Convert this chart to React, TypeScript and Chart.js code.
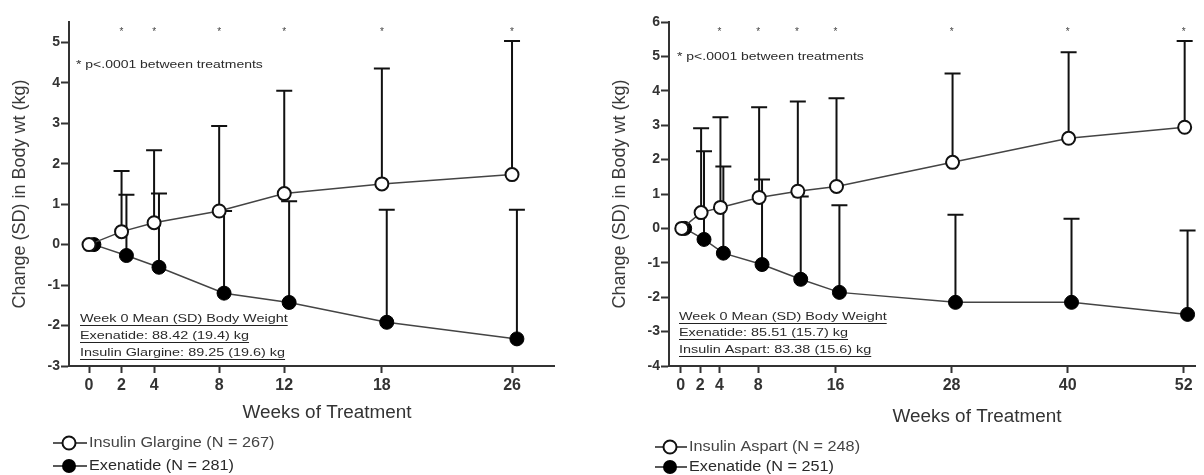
import React, { useEffect, useRef } from "react";
import { Chart, registerables } from "chart.js";
Chart.register(...registerables);

// ---------- Data ----------
// Left panel: Exenatide vs Insulin Glargine
const glargineWeeks = [0, 2, 4, 8, 12, 18, 26];
const glargineMean = [0, 0.32, 0.54, 0.83, 1.26, 1.5, 1.73];
const glargineSD = [0, 1.5, 1.79, 2.1, 2.54, 2.85, 3.3];
const exenatideGWeeks = [0, 2, 4, 8, 12, 18, 26];
const exenatideGMean = [0, -0.27, -0.56, -1.2, -1.43, -1.92, -2.33];
const exenatideGSD = [0, 1.5, 1.82, 2.03, 2.5, 2.78, 3.19];
const leftXTicks = [0, 2, 4, 8, 12, 18, 26];
const leftYTicks = [-3, -2, -1, 0, 1, 2, 3, 4, 5];
const leftSigWeeks = [2, 4, 8, 12, 18, 26];
const leftBoxLines = [
  "Week 0 Mean (SD) Body Weight",
  "Exenatide: 88.42 (19.4) kg",
  "Insulin Glargine: 89.25 (19.6) kg",
];
const leftLegend = ["Insulin Glargine (N = 267)", "Exenatide (N = 281)"];

// Right panel: Exenatide vs Insulin Aspart
const aspartWeeks = [0, 2, 4, 8, 12, 16, 28, 40, 52];
const aspartMean = [0, 0.46, 0.61, 0.9, 1.08, 1.22, 1.92, 2.62, 2.94];
const aspartSD = [0, 2.45, 2.62, 2.62, 2.61, 2.56, 2.58, 2.5, 2.51];
const exenatideAWeeks = [0, 2, 4, 8, 12, 16, 28, 40, 52];
const exenatideAMean = [0, -0.32, -0.72, -1.05, -1.48, -1.86, -2.15, -2.15, -2.5];
const exenatideASD = [0, 2.56, 2.52, 2.47, 2.41, 2.53, 2.55, 2.43, 2.44];
const rightXTicks = [0, 2, 4, 8, 16, 28, 40, 52];
const rightYTicks = [-4, -3, -2, -1, 0, 1, 2, 3, 4, 5, 6];
const rightSigWeeks = [4, 8, 12, 16, 28, 40, 52];
const rightBoxLines = [
  "Week 0 Mean (SD) Body Weight",
  "Exenatide: 85.51 (15.7) kg",
  "Insulin Aspart: 83.38 (15.6) kg",
];
const rightLegend = ["Insulin Aspart (N = 248)", "Exenatide (N = 251)"];

const noteText = "* p<.0001 between treatments";
const yTitle = "Change (SD) in Body wt (kg)";
const xTitle = "Weeks of Treatment";

// ---------- Styling ----------
const FONT = "Arial, 'Liberation Sans', Helvetica, sans-serif";
const AXIS = "#333";
const TEXT = "#2a2a2a";

function sText(ctx: any, text: string, x: number, y: number, size: number, sx: number, color: string, weight = "normal", align = "left") {
  ctx.save();
  ctx.font = `${weight} ${size}px ${FONT}`;
  ctx.fillStyle = color;
  ctx.textBaseline = "middle";
  ctx.textAlign = align;
  ctx.translate(x, y);
  ctx.scale(sx, 1);
  ctx.fillText(text, 0, 0);
  const w = ctx.measureText(text).width * sx;
  ctx.restore();
  return w;
}

type Panel = {
  left: number;
  width: number;
  xMin: number;
  xMax: number;
  yMin: number;
  yMax: number;
  padRight: number;
  xTicks: number[];
  yTicks: number[];
  insWeeks: number[];
  insMean: number[];
  insSD: number[];
  exWeeks: number[];
  exMean: number[];
  exSD: number[];
  insShift: number;
  exShift: number;
  sigWeeks: number[];
  note: [number, number];
  box: { x: number; ys: number[]; lines: string[] };
  legend: { x0: number; x1: number; mx: number; tx: number; ys: number[]; labels: string[] };
  xTitlePos: [number, number];
};

const panels: Panel[] = [
  {
    left: 0,
    width: 600,
    xMin: -1.23,
    xMax: 28.58,
    yMin: -3,
    yMax: 5.5,
    padRight: 46,
    xTicks: leftXTicks,
    yTicks: leftYTicks,
    insWeeks: glargineWeeks,
    insMean: glargineMean,
    insSD: glargineSD,
    exWeeks: exenatideGWeeks,
    exMean: exenatideGMean,
    exSD: exenatideGSD,
    insShift: 0,
    exShift: 0.3,
    sigWeeks: leftSigWeeks,
    note: [76, 65],
    box: { x: 80, ys: [319, 336, 353], lines: leftBoxLines },
    legend: { x0: 53, x1: 87, mx: 69, tx: 89, ys: [443, 466], labels: leftLegend },
    xTitlePos: [327, 413],
  },
  {
    left: 600,
    width: 604,
    xMin: -1.22,
    xMax: 53.22,
    yMin: -4,
    yMax: 6,
    padRight: 0,
    xTicks: rightXTicks,
    yTicks: rightYTicks,
    insWeeks: aspartWeeks,
    insMean: aspartMean,
    insSD: aspartSD,
    exWeeks: exenatideAWeeks,
    exMean: exenatideAMean,
    exSD: exenatideASD,
    insShift: 0.1,
    exShift: 0.4,
    sigWeeks: rightSigWeeks,
    note: [77, 57],
    box: { x: 79, ys: [317, 333, 350], lines: rightBoxLines },
    legend: { x0: 55, x1: 87, mx: 70, tx: 89, ys: [447, 467], labels: rightLegend },
    xTitlePos: [377, 417],
  },
];

function drawMarker(ctx: any, x: number, y: number, filled: boolean) {
  ctx.save();
  ctx.beginPath();
  ctx.arc(x, y, filled ? 7 : 6.5, 0, Math.PI * 2);
  if (filled) {
    ctx.fillStyle = "#000";
    ctx.fill();
  } else {
    ctx.fillStyle = "#fff";
    ctx.fill();
    ctx.lineWidth = 2;
    ctx.strokeStyle = "#111";
    ctx.stroke();
  }
  ctx.restore();
}

function makeChart(canvas: HTMLCanvasElement, p: Panel) {
  const sdByDataset = [p.insSD, p.exSD];
  const meanByDataset = [p.insMean, p.exMean];

  const errorBars = {
    id: "errorBars",
    beforeDatasetsDraw(chart: any) {
      const ctx = chart.ctx;
      const ys = chart.scales.y;
      ctx.save();
      ctx.strokeStyle = "#111";
      ctx.lineWidth = 2;
      for (let d = 1; d >= 0; d--) {
        const meta = chart.getDatasetMeta(d);
        meta.data.forEach((pt: any, i: number) => {
          const sd = sdByDataset[d][i];
          if (!sd) return;
          const top = ys.getPixelForValue(meanByDataset[d][i] + sd);
          ctx.beginPath();
          ctx.moveTo(pt.x, pt.y);
          ctx.lineTo(pt.x, top);
          ctx.moveTo(pt.x - 8, top);
          ctx.lineTo(pt.x + 8, top);
          ctx.stroke();
        });
      }
      ctx.restore();
    },
  };

  const annotations = {
    id: "annotations",
    afterDraw(chart: any) {
      const ctx = chart.ctx;
      const xs = chart.scales.x;
      // significance asterisks
      p.sigWeeks.forEach((w) => {
        sText(ctx, "*", xs.getPixelForValue(w), 32, 10, 1, "#444", "normal", "center");
      });
      // note
      sText(ctx, noteText, p.note[0], p.note[1], 11, 1.27, TEXT);
      // baseline weight box (underlined lines)
      p.box.lines.forEach((line, i) => {
        const y = p.box.ys[i];
        const w = sText(ctx, line, p.box.x, y, 11, 1.31, TEXT);
        ctx.save();
        ctx.strokeStyle = "#222";
        ctx.lineWidth = 1.2;
        ctx.beginPath();
        ctx.moveTo(p.box.x, y + 6.5);
        ctx.lineTo(p.box.x + w, y + 6.5);
        ctx.stroke();
        ctx.restore();
      });
      // x-axis title
      sText(ctx, xTitle, p.xTitlePos[0], p.xTitlePos[1], 18, 1.05, AXIS, "normal", "center");
      // legend
      p.legend.labels.forEach((lab, i) => {
        const y = p.legend.ys[i];
        ctx.save();
        ctx.strokeStyle = "#222";
        ctx.lineWidth = 1.5;
        ctx.beginPath();
        ctx.moveTo(p.legend.x0, y);
        ctx.lineTo(p.legend.x1, y);
        ctx.stroke();
        ctx.restore();
        drawMarker(ctx, p.legend.mx, y, i === 1);
        sText(ctx, lab, p.legend.tx, y, 14, 1.16, i === 0 ? "#444" : TEXT);
      });
    },
  };

  const gridOpts = (len: number) => ({
    display: true,
    drawOnChartArea: false,
    drawTicks: true,
    tickLength: len,
    tickWidth: 2,
    tickColor: AXIS,
    color: AXIS,
  });

  return new Chart(canvas, {
    type: "line",
    data: {
      datasets: [
        {
          label: p.legend.labels[0],
          data: p.insWeeks.map((w, i) => ({ x: w + p.insShift, y: p.insMean[i] })),
          borderColor: "#444",
          borderWidth: 1.5,
          pointRadius: 6.5,
          pointBorderWidth: 2,
          pointBackgroundColor: "#fff",
          pointBorderColor: "#111",
          clip: false,
        },
        {
          label: p.legend.labels[1],
          data: p.exWeeks.map((w, i) => ({ x: w + p.exShift, y: p.exMean[i] })),
          borderColor: "#444",
          borderWidth: 1.5,
          pointRadius: 7,
          pointBorderWidth: 1,
          pointBackgroundColor: "#000",
          pointBorderColor: "#000",
          clip: false,
        },
      ],
    },
    options: {
      responsive: false,
      animation: false,
      devicePixelRatio: 1,
      events: [],
      layout: { padding: { top: 22, left: 0, right: p.padRight, bottom: 475 - 366 - 40 } },
      plugins: { legend: { display: false }, tooltip: { enabled: false } },
      scales: {
        x: {
          type: "linear",
          min: p.xMin,
          max: p.xMax,
          afterBuildTicks: (s: any) => {
            s.ticks = p.xTicks.map((v) => ({ value: v }));
          },
          afterFit: (s: any) => {
            s.height = 40;
          },
          grid: gridOpts(7),
          border: { display: true, color: AXIS, width: 2 },
          ticks: {
            autoSkip: false,
            maxRotation: 0,
            padding: 3,
            color: AXIS,
            font: { family: FONT, size: 16, weight: "bold" },
            callback: (v: any) => String(v),
          },
        },
        y: {
          type: "linear",
          min: p.yMin,
          max: p.yMax,
          afterBuildTicks: (s: any) => {
            s.ticks = p.yTicks.map((v) => ({ value: v }));
          },
          afterFit: (s: any) => {
            s.width = 69;
          },
          grid: gridOpts(8),
          border: { display: true, color: AXIS, width: 2 },
          ticks: {
            padding: 1,
            color: AXIS,
            font: { family: FONT, size: 14, weight: "bold" },
            callback: (v: any) => String(v),
          },
          title: {
            display: true,
            text: yTitle,
            color: "#3a3a3a",
            font: { family: FONT, size: 18 },
            padding: { top: 9, bottom: 0 },
          },
        },
      },
    },
    plugins: [errorBars, annotations],
  } as any);
}

function PanelChart({ p }: { p: Panel }) {
  const ref = useRef<HTMLCanvasElement | null>(null);
  useEffect(() => {
    if (!ref.current) return;
    const c = makeChart(ref.current, p);
    return () => c.destroy();
  }, [p]);
  return (
    <canvas
      ref={ref}
      width={p.width}
      height={475}
      style={{ position: "absolute", left: p.left, top: 0, width: p.width, height: 475 }}
    />
  );
}

export default function App() {
  useEffect(() => {
    document.body.style.margin = "0";
    document.body.style.background = "#fff";
  }, []);
  return (
    <div style={{ position: "relative", width: 1204, height: 475, background: "#fff", overflow: "hidden" }}>
      {panels.map((p, i) => (
        <PanelChart key={i} p={p} />
      ))}
    </div>
  );
}
